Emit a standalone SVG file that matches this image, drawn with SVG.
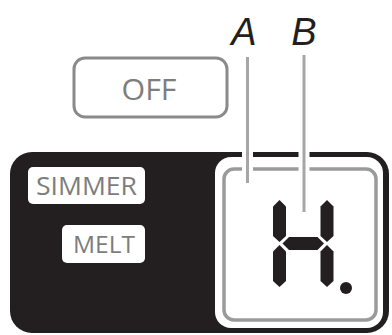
<svg xmlns="http://www.w3.org/2000/svg" width="392" height="335" viewBox="0 0 392 335">
<style>
.lbl{font-family:"Liberation Sans",Arial,sans-serif;font-style:italic;font-size:38px;fill:#231f20;text-anchor:middle}
.btn{font-family:"Open Sans","Liberation Sans",Arial,sans-serif;fill:#7d7d7d;text-anchor:middle}
.seg{fill:#231f20}
.halo{stroke:#fff;stroke-width:11;fill:none}
.lead{stroke:#a6a6a6;stroke-width:3;fill:none}
</style>
<rect width="392" height="335" fill="#fff"/>
<g id="off-button">
<rect x="74" y="58" width="153" height="59" rx="11" fill="#fff" stroke="#8a8a8a" stroke-width="3"/>
<text class="btn" x="149" y="100" font-size="30" textLength="55" lengthAdjust="spacingAndGlyphs">OFF</text>
</g>
<g id="panel">
<rect x="10" y="152" width="379" height="181" rx="22" fill="#231f20"/>
</g>
<g id="simmer">
<rect x="28" y="167" width="117" height="37" rx="5" fill="#fff"/>
<text class="btn" x="86.5" y="195" font-size="25" textLength="101" lengthAdjust="spacingAndGlyphs">SIMMER</text>
</g>
<g id="melt">
<rect x="62" y="225" width="83" height="38" rx="5" fill="#fff"/>
<text class="btn" x="104" y="253" font-size="24" textLength="62" lengthAdjust="spacingAndGlyphs">MELT</text>
</g>
<g id="display">
<rect x="215" y="157" width="168" height="171" rx="16" fill="#fff"/>
<rect x="224" y="169" width="152" height="151" rx="10" fill="none" stroke="#9a9a9a" stroke-width="3.5"/>
<polygon class="seg" points="279.5,200 286,206.5 286,236 279.5,242 273,236 273,206.5"/>
<polygon class="seg" points="279.5,245 286,251.5 286,281 279.5,287 273,281 273,251.5"/>
<polygon class="seg" points="327,200 333.5,206.5 333.5,236 327,242 320.5,236 320.5,206.5"/>
<polygon class="seg" points="327,245 333.5,251.5 333.5,281 327,287 320.5,281 320.5,251.5"/>
<polygon class="seg" points="282.5,243.5 289,237 317.5,237 324,243.5 317.5,250 289,250"/>
<circle class="seg" cx="346" cy="288" r="6"/>
</g>
<g id="connectors">
<line class="halo" x1="247.5" y1="140" x2="247.5" y2="180"/>
<line class="halo" x1="304" y1="140" x2="304" y2="180"/>
<line class="lead" x1="247.5" y1="57" x2="247.5" y2="183"/>
<line class="lead" x1="304" y1="55" x2="304" y2="212"/>
</g>
<g id="labels">
<text class="lbl" x="244" y="45">A</text>
<text class="lbl" x="304" y="45">B</text>
</g>
</svg>
